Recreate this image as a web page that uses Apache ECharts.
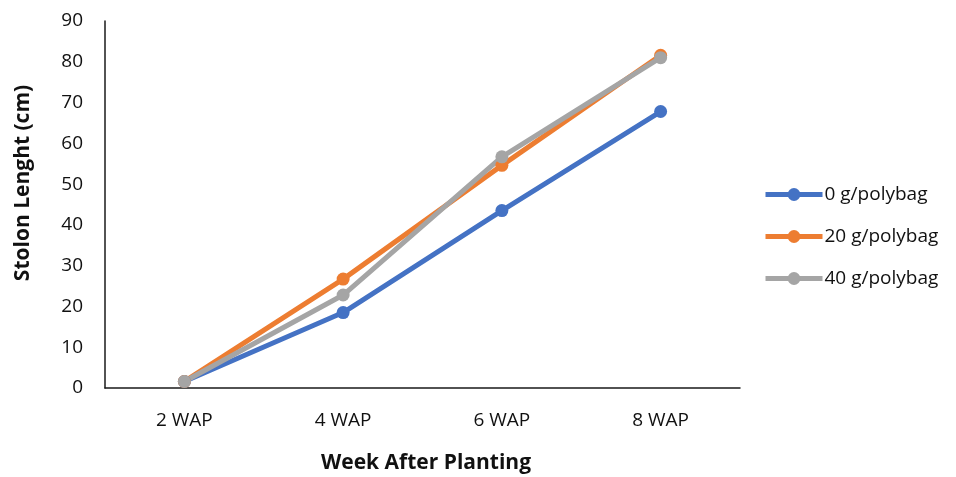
<!DOCTYPE html>
<html>
<head>
<meta charset="utf-8">
<script src="https://cdn.jsdelivr.net/npm/echarts@6/dist/echarts.min.js"></script>
<style>
  html, body { margin: 0; padding: 0; background: #fff; }
  #chart { width: 956px; height: 477px; }
</style>
</head>
<body>
<div id="chart"></div>
<script>
// Weeks after planting
const categories = ['2 WAP', '4 WAP', '6 WAP', '8 WAP'];

// Stolon length (cm) per compost dose
const dose0 = [1.6, 18.5, 43.5, 67.8];
const dose20 = [1.6, 26.7, 54.6, 81.6];
const dose40 = [1.6, 22.8, 56.7, 81.0];

const seriesNames = ['0 g/polybag', '20 g/polybag', '40 g/polybag'];
const colors = ['#4472C4', '#ED7D31', '#A5A5A5'];

const yTicks = { min: 0, max: 90, interval: 10 };

const font = 'Open Sans, Liberation Sans, sans-serif';
const textColor = '#111';

const chart = echarts.init(document.getElementById('chart'), null, { renderer: 'canvas' });

function makeSeries(name, data, color) {
  return {
    name: name,
    type: 'line',
    data: data,
    symbol: 'circle',
    symbolSize: 13,
    lineStyle: { width: 5, color: color },
    itemStyle: { color: color },
    emphasis: { disabled: true },
    z: 2
  };
}

chart.setOption({
  animation: false,
  color: colors,
  grid: { left: 105, right: 216, top: 21, bottom: 89, containLabel: false },
  legend: {
    orient: 'vertical',
    left: 763,
    top: 185,
    padding: 0,
    itemWidth: 57,
    itemHeight: 16,
    itemGap: 23,
    lineStyle: { width: 5 },
    textStyle: { fontFamily: font, fontSize: 19, color: textColor, padding: [0, 0, 0, -3] },
    data: seriesNames
  },
  xAxis: {
    type: 'category',
    data: categories,
    boundaryGap: true,
    axisLine: { lineStyle: { color: '#1a1a1a', width: 1.5 } },
    axisTick: { show: false },
    axisLabel: { fontFamily: font, fontSize: 19, color: textColor, margin: 23 }
  },
  yAxis: {
    type: 'value',
    min: yTicks.min,
    max: yTicks.max,
    interval: yTicks.interval,
    axisLine: { show: true, lineStyle: { color: '#1a1a1a', width: 1.5 } },
    axisTick: { show: false },
    splitLine: { show: false },
    axisLabel: { fontFamily: font, fontSize: 19, color: textColor, margin: 22 }
  },
  graphic: [
    {
      type: 'text',
      position: [426, 463],
      style: {
        text: 'Week After Planting',
        x: 0, y: 0,
        font: 'bold 21px ' + font,
        fill: textColor,
        align: 'center',
        verticalAlign: 'middle'
      }
    },
    {
      type: 'text',
      rotation: Math.PI / 2,
      position: [23, 183],
      style: {
        text: 'Stolon Lenght (cm)',
        x: 0, y: 0,
        font: 'bold 21px ' + font,
        fill: textColor,
        align: 'center',
        verticalAlign: 'middle'
      }
    }
  ],
  series: [
    makeSeries(seriesNames[0], dose0, colors[0]),
    makeSeries(seriesNames[1], dose20, colors[1]),
    makeSeries(seriesNames[2], dose40, colors[2])
  ]
});
</script>
</body>
</html>
